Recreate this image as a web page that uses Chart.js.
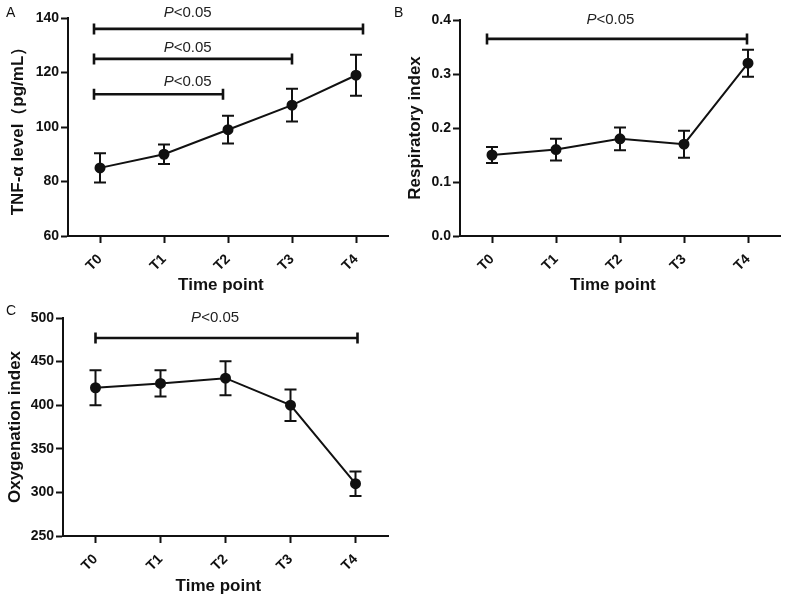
<!DOCTYPE html>
<html><head><meta charset="utf-8">
<script src="https://cdn.jsdelivr.net/npm/chart.js@4.4.1/dist/chart.umd.min.js"></script>
<style>
html,body{margin:0;padding:0;background:#fff}
body{width:800px;height:601px;position:relative;overflow:hidden;font-family:"Liberation Sans",Arial,sans-serif}
canvas{position:absolute}
.lbl{position:absolute;font-size:14px;line-height:14px;color:#111}
</style></head><body>
<canvas id="cA" width="400" height="300" style="left:0;top:0;width:400px;height:300px"></canvas>
<canvas id="cB" width="400" height="300" style="left:400px;top:0;width:400px;height:300px"></canvas>
<canvas id="cC" width="400" height="301" style="left:0;top:300px;width:400px;height:301px"></canvas>
<div class="lbl" style="left:6px;top:5px">A</div>
<div class="lbl" style="left:394px;top:5px">B</div>
<div class="lbl" style="left:6px;top:303px">C</div>
<script>
// ---- data ----
const timePoints = ['T0', 'T1', 'T2', 'T3', 'T4'];

const tnfMean = [85, 90, 99, 108, 119];
const tnfErr  = [5.4, 3.6, 5.1, 6.0, 7.5];
const tnfTicks = [60, 80, 100, 120, 140];
const tnfSig = [ {from: 0, to: 4, y: 136}, {from: 0, to: 3, y: 125}, {from: 0, to: 2, y: 112} ];

const riMean = [0.15, 0.16, 0.18, 0.17, 0.32];
const riErr  = [0.015, 0.02, 0.021, 0.025, 0.025];
const riTicks = [0.0, 0.1, 0.2, 0.3, 0.4];
const riSig = [ {from: 0, to: 4, y: 0.365} ];

const oiMean = [420, 425, 431, 400, 310];
const oiErr  = [20, 15, 19.5, 18, 14];
const oiTicks = [250, 300, 350, 400, 450, 500];
const oiSig = [ {from: 0, to: 4, y: 477} ];

const sigText = ['P', '<0.05'];

// ---- drawing ----
const FONT = '"Liberation Sans", Arial, sans-serif';

const errPlugin = {
  id: 'errbars',
  afterDatasetsDraw(chart, args, o) {
    const ctx = chart.ctx, x = chart.scales.x, y = chart.scales.y;
    ctx.save();
    ctx.strokeStyle = '#111';
    ctx.lineWidth = 2;
    o.mean.forEach((m, i) => {
      const px = x.getPixelForValue(i);
      const t = y.getPixelForValue(m + o.err[i]);
      const b = y.getPixelForValue(m - o.err[i]);
      ctx.beginPath();
      ctx.moveTo(px, t); ctx.lineTo(px, b);
      ctx.moveTo(px - 6, t); ctx.lineTo(px + 6, t);
      ctx.moveTo(px - 6, b); ctx.lineTo(px + 6, b);
      ctx.stroke();
    });
    o.sig.forEach((s, k) => {
      const g = o.geom[k];
      const x1 = x.getPixelForValue(s.from) + g.p1;
      const x2 = x.getPixelForValue(s.to) + g.p2;
      const py = y.getPixelForValue(s.y);
      ctx.lineWidth = 2.6;
      ctx.beginPath();
      ctx.moveTo(x1, py); ctx.lineTo(x2, py);
      ctx.moveTo(x1, py - 5.5); ctx.lineTo(x1, py + 5.5);
      ctx.moveTo(x2, py - 5.5); ctx.lineTo(x2, py + 5.5);
      ctx.stroke();
      // label
      ctx.fillStyle = '#222';
      ctx.textBaseline = 'alphabetic';
      ctx.textAlign = 'left';
      ctx.font = 'italic 15px ' + FONT;
      const w1 = ctx.measureText(sigText[0]).width;
      ctx.font = '15px ' + FONT;
      const w2 = ctx.measureText(sigText[1]).width;
      const cx = x.getPixelForValue(g.lx);
      const sx = cx - (w1 + w2) / 2;
      const by = py + g.dy;
      ctx.font = 'italic 15px ' + FONT;
      ctx.fillText(sigText[0], sx, by);
      ctx.font = '15px ' + FONT;
      ctx.fillText(sigText[1], sx + w1, by);
    });
    ctx.restore();
  }
};

function makeChart(id, mean, err, ticks, sig, geom, yTitle, area, fmt, titlePad) {
  const c = document.getElementById(id);
  const H = c.height, W = c.width;
  return new Chart(c, {
    type: 'line',
    data: {
      labels: timePoints,
      datasets: [{
        data: mean,
        borderColor: '#111',
        borderWidth: 2,
        pointRadius: 4.5,
        pointBackgroundColor: '#111',
        pointBorderColor: '#111',
        tension: 0,
        clip: false
      }]
    },
    options: {
      responsive: false,
      animation: false,
      events: [],
      layout: { padding: { top: area.top, right: W - area.right, left: 0, bottom: 0 } },
      plugins: {
        legend: { display: false },
        tooltip: { enabled: false },
        errbars: { mean: mean, err: err, sig: sig, geom: geom }
      },
      scales: {
        x: {
          type: 'category',
          offset: true,
          afterFit: s => { s.height = H - area.bottom; },
          border: { display: true, color: '#111', width: 2 },
          grid: { display: true, drawOnChartArea: false, drawTicks: true, tickLength: 7, tickWidth: 2, tickColor: '#111', offset: false },
          ticks: { color: '#111', font: { family: FONT, size: 14, weight: 'bold' }, minRotation: 45, maxRotation: 45, autoSkip: false, padding: 8 },
          title: { display: true, text: 'Time point\u00a0\u00a0\u00a0', color: '#111', font: { family: FONT, size: 17, weight: 'bold' }, padding: { top: 0, bottom: 4 } }
        },
        y: {
          type: 'linear',
          min: ticks[0],
          max: ticks[ticks.length - 1],
          afterFit: s => { s.width = area.left; },
          afterBuildTicks: s => { s.ticks = ticks.map(v => ({ value: v })); },
          border: { display: true, color: '#111', width: 2 },
          grid: { display: true, drawOnChartArea: false, drawTicks: true, tickLength: 7, tickWidth: 2, tickColor: '#111' },
          ticks: { color: '#111', font: { family: FONT, size: 14, weight: 'bold' }, padding: 2, callback: v => fmt(v) },
          title: { display: true, text: yTitle, color: '#111', font: { family: FONT, size: 17, weight: 'bold' }, padding: { top: titlePad, bottom: 0 } }
        }
      }
    },
    plugins: [errPlugin]
  });
}

makeChart('cA', tnfMean, tnfErr, tnfTicks, tnfSig,
  [ {p1: -6, p2: 7, lx: 1.37, dy: -12}, {p1: -6, p2: 0, lx: 1.37, dy: -7}, {p1: -6, p2: -5, lx: 1.37, dy: -8} ],
  'TNF-α level（pg/mL）', {left: 68, top: 18, right: 388, bottom: 236}, v => String(v), 8);

makeChart('cB', riMean, riErr, riTicks, riSig,
  [ {p1: -5, p2: -1, lx: 1.85, dy: -15} ],
  'Respiratory index', {left: 60, top: 20, right: 380, bottom: 236}, v => v.toFixed(1), 5);

makeChart('cC', oiMean, oiErr, oiTicks, oiSig,
  [ {p1: 0, p2: 2, lx: 1.84, dy: -16.5} ],
  'Oxygenation index', {left: 63, top: 18, right: 388, bottom: 236}, v => String(v), 5);
</script>
</body></html>
